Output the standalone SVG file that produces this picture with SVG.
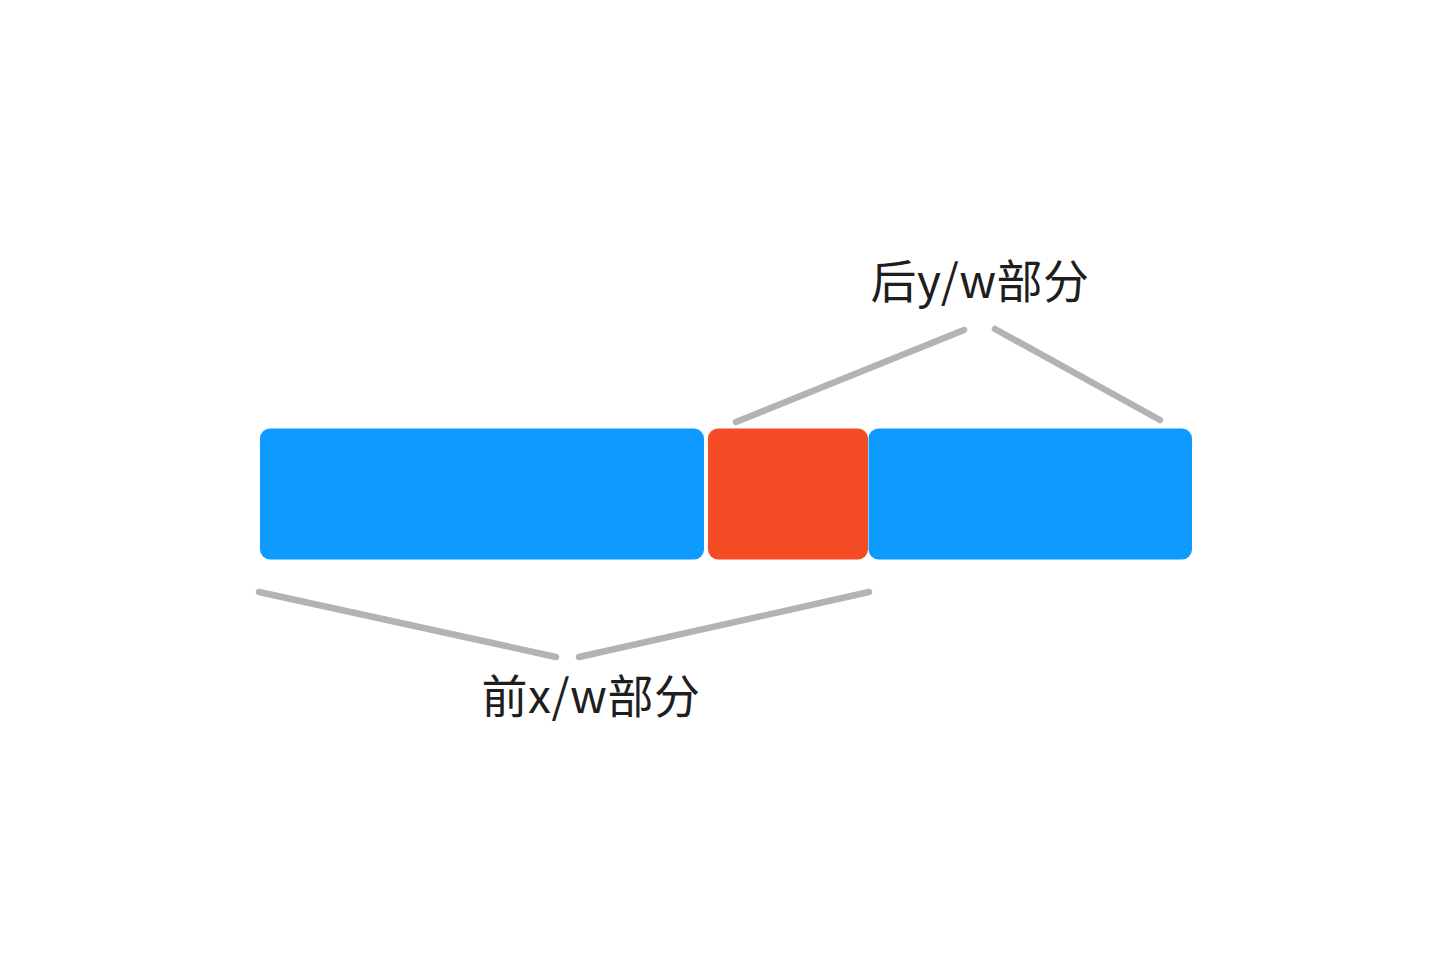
<svg xmlns="http://www.w3.org/2000/svg" width="1448" height="974" viewBox="0 0 1448 974">
<style>
.blue{fill:#0f9aff}
.red{fill:#f34b23}
.conn line{stroke:#b3b3b3;stroke-width:6.5;stroke-linecap:round}
.lbl{font-family:"Noto Sans CJK SC","Noto Sans",sans-serif;font-size:46px;fill:#1e1e1e;text-anchor:middle;letter-spacing:0.5px}
</style>
<rect width="1448" height="974" fill="#ffffff"/>
<g id="seg-front"><rect class="blue" x="260" y="428.5" width="444" height="131" rx="10"/></g>
<g id="seg-mid"><rect class="red" x="708" y="428.5" width="160" height="131" rx="10"/></g>
<g id="seg-back"><rect class="blue" x="868.5" y="428.5" width="323.5" height="131" rx="10"/></g>
<g id="label-back"><text class="lbl" x="980" y="298">后y/w部分</text></g>
<g id="label-front"><text class="lbl" x="591" y="713">前x/w部分</text></g>
<g class="conn" id="connectors">
<line x1="736" y1="422" x2="964" y2="330"/>
<line x1="995" y1="329" x2="1160" y2="420"/>
<line x1="259" y1="592" x2="556" y2="657"/>
<line x1="579" y1="657" x2="869" y2="592"/>
</g>
</svg>
